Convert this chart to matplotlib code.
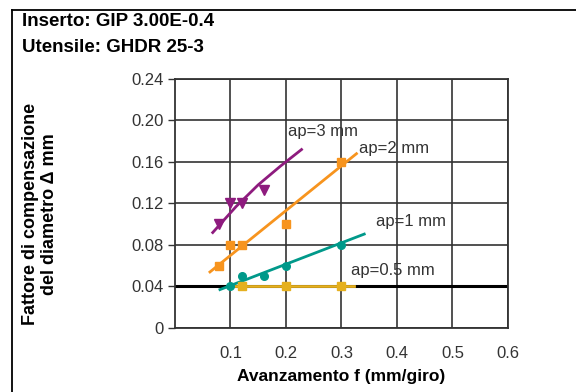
import numpy as np
import matplotlib
matplotlib.use('Agg')
import matplotlib.pyplot as plt
from matplotlib.lines import Line2D

plt.rcParams['font.family'] = ['Liberation Sans', 'DejaVu Sans']

# dati
f_ap3 = [0.08, 0.10, 0.12, 0.16]
d_ap3 = [0.10, 0.12, 0.12, 0.133]
fit_f_ap3 = [0.068, 0.11, 0.15, 0.19, 0.228]
fit_d_ap3 = [0.092, 0.117, 0.138, 0.156, 0.172]

f_ap2 = [0.08, 0.10, 0.12, 0.20, 0.30]
d_ap2 = [0.06, 0.08, 0.08, 0.10, 0.16]
fit_f_ap2 = [0.063, 0.327]
fit_d_ap2 = [0.054, 0.168]

f_ap1 = [0.10, 0.12, 0.16, 0.20, 0.30]
d_ap1 = [0.04, 0.05, 0.05, 0.06, 0.08]
fit_f_ap1 = [0.081, 0.341]
fit_d_ap1 = [0.037, 0.0905]

f_ap05 = [0.12, 0.20, 0.30]
d_ap05 = [0.04, 0.04, 0.04]
fit_f_ap05 = [0.105, 0.322]
fit_d_ap05 = [0.04, 0.04]

xticks = [0.1, 0.2, 0.3, 0.4, 0.5, 0.6]
yticks = [0, 0.04, 0.08, 0.12, 0.16, 0.20, 0.24]
ylabels = ['0', '0.04', '0.08', '0.12', '0.16', '0.20', '0.24']

viola = '#8E1B7E'
arancio = '#F7941E'
verde = '#00998A'
giallo = '#E5B01F'
grigio = '#333333'

fig = plt.figure(figsize=(5.76, 3.92), dpi=100)
ax = fig.add_axes([0.3038, 0.1633, 0.5781, 0.6352])

ax.set_xlim(0, 0.6)
ax.set_ylim(0, 0.24)
ax.set_xticks(xticks)
ax.set_xticklabels(['0.1', '0.2', '0.3', '0.4', '0.5', '0.6'])
ax.set_yticks(yticks)
ax.set_yticklabels(ylabels)
ax.tick_params(axis='x', length=0, pad=13, labelsize=12, labelcolor=grigio)
ax.tick_params(axis='y', length=5, width=1, color=grigio, pad=3,
               labelsize=12, labelcolor=grigio)
for s in ax.spines.values():
    s.set_color(grigio)
    s.set_linewidth(1.3)
ax.grid(True, color=grigio, linewidth=1.2)
ax.set_axisbelow(True)
ax.axhline(0.04, color='black', linewidth=2.2, zorder=1.5)

# curve
ax.plot(fit_f_ap3, fit_d_ap3, color=viola, lw=2, zorder=3)
ax.plot(f_ap3, d_ap3, 'v', color=viola, ms=7, zorder=4)
ax.plot(fit_f_ap2, fit_d_ap2, color=arancio, lw=2, zorder=3)
ax.plot(f_ap2, d_ap2, 's', color=arancio, ms=5.5, zorder=4)
ax.plot(fit_f_ap1, fit_d_ap1, color=verde, lw=2, zorder=3)
ax.plot(f_ap1, d_ap1, 'o', color=verde, ms=5.5, zorder=4)
ax.plot(fit_f_ap05, fit_d_ap05, color=giallo, lw=2, zorder=3)
ax.plot(f_ap05, d_ap05, 's', color=giallo, ms=5.5, zorder=4)

ax.text(0.204, 0.189, 'ap=3 mm', fontsize=12, color=grigio, va='center')
ax.text(0.332, 0.173, 'ap=2 mm', fontsize=12, color=grigio, va='center')
ax.text(0.362, 0.1025, 'ap=1 mm', fontsize=12, color=grigio, va='center')
ax.text(0.3165, 0.055, 'ap=0.5 mm', fontsize=12, color=grigio, va='center')

ax.set_xlabel('Avanzamento f (mm/giro)', fontsize=12.5, fontweight='bold',
              labelpad=6)
fig.text(40 / 576, 1 - 214 / 392, 'Fattore di compensazione\ndel diametro \u0394 mm',
         rotation=90, ha='center', va='center', fontsize=13,
         fontweight='bold', linespacing=1.2)

fig.text(22 / 576, 1 - 22 / 392, 'Inserto: GIP 3.00E-0.4', fontsize=13.5,
         fontweight='bold', va='center')
fig.text(22 / 576, 1 - 47 / 392, 'Utensile: GHDR 25-3', fontsize=13.5,
         fontweight='bold', va='center')

# cornice
fig.add_artist(Line2D([12 / 576, 1], [1 - 10 / 392, 1 - 10 / 392],
                      color='black', lw=1.3, transform=fig.transFigure))
fig.add_artist(Line2D([12 / 576, 12 / 576], [0, 1 - 10 / 392],
                      color='black', lw=1.3, transform=fig.transFigure))

fig.savefig('out.png', dpi=100)
